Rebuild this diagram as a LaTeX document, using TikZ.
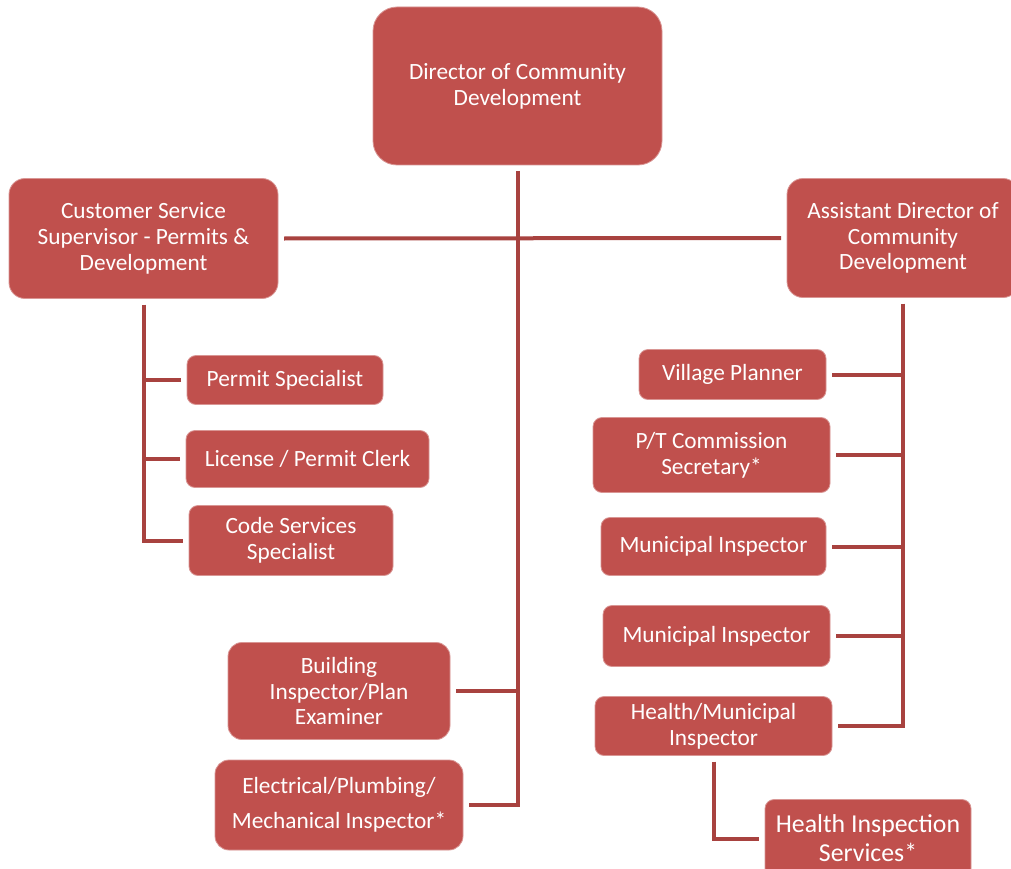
\documentclass[tikz,border=0pt]{standalone}
\usepackage{fontspec}
\setmainfont{Carlito}
\definecolor{boxred}{HTML}{C0504D}
\definecolor{linered}{HTML}{A8423F}
\begin{document}
\begin{tikzpicture}[x=1pt,y=-1pt,
  box/.style={fill=boxred, draw=boxred!60!white, line width=0.8pt, text=white, align=center,
    font=\fontsize{23.3}{25.8}\selectfont, inner sep=0pt, outer sep=6pt, rounded corners=9pt},
  conn/.style={draw=linered, line width=4pt}]
\clip (0,0) rectangle (1011,869);
\fill[white] (0,0) rectangle (1011,869);
\node[box, minimum width=289, minimum height=158, rounded corners=24pt] (dir) at (517.5,86) {Director of Community\\Development};
\node[box, minimum width=269, minimum height=120, rounded corners=16pt] (cs) at (143.5,238.5) {Customer Service\\Supervisor - Permits \&\\Development};
\node[box, minimum width=232, minimum height=119, rounded corners=16pt] (ad) at (903,238) {Assistant Director of\\Community\\Development};
\node[box, minimum width=196, minimum height=49] (ps) at (285,380) {Permit Specialist};
\node[box, minimum width=243, minimum height=57] (lc) at (307.5,459) {License / Permit Clerk};
\node[box, minimum width=204, minimum height=70] (cd) at (291,540.5) {Code Services\\Specialist};
\node[box, minimum width=222, minimum height=97, rounded corners=14pt] (bi) at (339,691) {Building\\Inspector/Plan\\Examiner};
\node[box, minimum width=248, minimum height=90, rounded corners=14pt] (el) at (339,805) {Electrical/Plumbing/\\[9pt]Mechanical Inspector*};
\node[box, minimum width=187, minimum height=50] (vp) at (732.5,374.5) {Village Planner};
\node[box, minimum width=237, minimum height=75] (pt) at (711.5,455) {P/T Commission\\Secretary*};
\node[box, minimum width=225, minimum height=58] (m1) at (713.5,546.5) {Municipal Inspector};
\node[box, minimum width=227, minimum height=61] (m2) at (716.5,636) {Municipal Inspector};
\node[box, minimum width=237, minimum height=59] (hm) at (713.5,726) {Health/Municipal\\Inspector};
\node[box, minimum width=206, minimum height=78, font=\fontsize{25.8}{29}\selectfont] (his) at (868,838.5) {Health Inspection\\Services*};
% connectors
\draw[conn] (cs.east) -- (ad.west);
\draw[conn] (dir.south) |- (el.east);
\draw[conn] (bi.east) -- (bi.east -| dir.south);
\draw[conn] (cs.south) |- (cd.west);
\draw[conn] (ps.west) -- (ps.west -| cs.south);
\draw[conn] (lc.west) -- (lc.west -| cs.south);
\draw[conn] (ad.south) |- (hm.east);
\draw[conn] (vp.east) -- (vp.east -| ad.south);
\draw[conn] (pt.east) -- (pt.east -| ad.south);
\draw[conn] (m1.east) -- (m1.east -| ad.south);
\draw[conn] (m2.east) -- (m2.east -| ad.south);
\draw[conn] (hm.south) |- (his.west);
\end{tikzpicture}
\end{document}
